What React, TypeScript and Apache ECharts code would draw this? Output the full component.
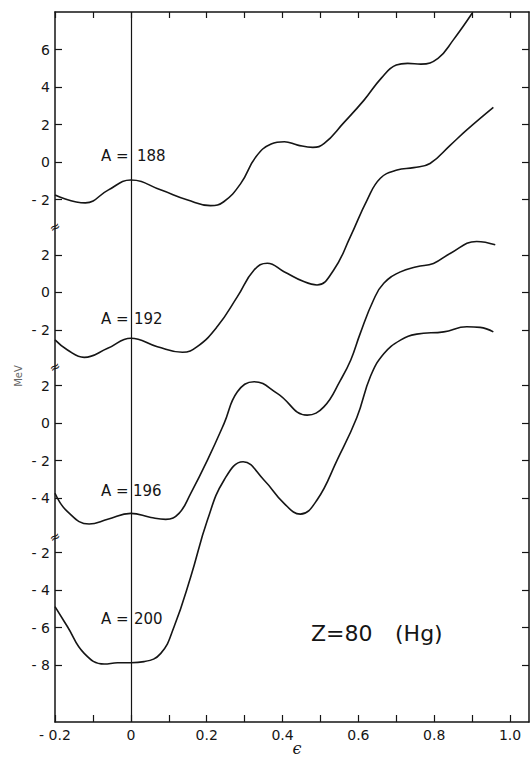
import React, { useEffect, useRef } from "react";
import * as echarts from "echarts";

// deformation axis
const X_TICKS = [-0.2, -0.1, 0, 0.1, 0.2, 0.3, 0.4, 0.5, 0.6, 0.7, 0.8, 0.9, 1.0];
const X_LABELS = [-0.2, 0, 0.2, 0.4, 0.6, 0.8, 1.0];

// A = 188 (top panel)
const eps188 = [-0.2, -0.12, -0.06, 0.0, 0.08, 0.15, 0.21, 0.245, 0.29, 0.33, 0.37, 0.405, 0.44, 0.48, 0.51, 0.56, 0.615, 0.66, 0.70, 0.73, 0.765, 0.81, 0.85, 0.90];
const mev188 = [-1.75, -2.17, -1.49, -0.95, -1.49, -2.02, -2.32, -2.11, -1.13, 0.29, 0.97, 1.09, 0.91, 0.79, 1.0, 2.07, 3.31, 4.47, 5.18, 5.27, 5.23, 5.54, 6.51, 7.94];

// A = 192
const eps192 = [-0.2, -0.167, -0.123, -0.061, 0.0, 0.07, 0.136, 0.175, 0.228, 0.281, 0.325, 0.36, 0.404, 0.456, 0.491, 0.535, 0.579, 0.623, 0.658, 0.702, 0.746, 0.789, 0.842, 0.886, 0.956];
const mev192 = [-2.54, -3.08, -3.47, -2.99, -2.45, -2.9, -3.2, -2.9, -1.83, -0.23, 1.19, 1.55, 1.1, 0.57, 0.39, 1.19, 2.97, 4.92, 6.08, 6.52, 6.65, 6.87, 7.84, 8.66, 9.86];

// A = 196
const eps196 = [-0.2, -0.167, -0.11, -0.061, 0.0, 0.053, 0.092, 0.127, 0.158, 0.202, 0.246, 0.281, 0.325, 0.386, 0.465, 0.509, 0.553, 0.58, 0.605, 0.64, 0.667, 0.711, 0.754, 0.798, 0.842, 0.912, 0.961];
const mev196 = [-3.74, -4.72, -5.38, -5.13, -4.81, -5.03, -5.13, -4.81, -3.74, -1.97, -0.01, 1.67, 2.21, 1.59, 0.43, 0.87, 2.3, 3.37, 4.79, 6.57, 7.46, 8.07, 8.34, 8.52, 9.05, 9.69, 9.51];

// A = 200 (bottom panel)
const eps200 = [-0.2, -0.167, -0.123, -0.07, -0.035, 0.0, 0.035, 0.079, 0.114, 0.158, 0.202, 0.246, 0.296, 0.351, 0.404, 0.447, 0.491, 0.544, 0.596, 0.632, 0.667, 0.711, 0.754, 0.825, 0.886, 0.921, 0.956];
const mev200 = [-4.89, -5.96, -7.38, -7.95, -7.88, -7.88, -7.82, -7.38, -5.96, -3.29, -0.27, 1.87, 2.84, 1.87, 0.62, 0.05, 0.8, 2.93, 5.2, 7.4, 8.6, 9.33, 9.65, 9.77, 10.04, 10.01, 9.77];

const MASS_NUMBERS = ["188", "192", "196", "200"];
const EPS = [eps188, eps192, eps196, eps200];
const MEV = [mev188, mev192, mev196, mev200];

// tick labels of each broken y-axis panel (MeV)
const Y_TICKS = [
  [6, 4, 2, 0, -2],
  [2, 0, -2],
  [2, 0, -2, -4],
  [-2, -4, -6, -8],
];
// lower bound of each panel's scale; all panels share the same span
const Y_MIN = [-29.86, -22.92, -15.94, -11.04];
const Y_SPAN = 37.87;

const INK = "#151515";
const FONT = "DejaVu Sans";

export default function App() {
  const ref = useRef<HTMLDivElement>(null);

  useEffect(() => {
    if (!ref.current) return;
    const chart = echarts.init(ref.current, null, { renderer: "svg" });

    const fmtY = (v: number) => (v < 0 ? "- " + Math.abs(v) : String(v));
    const fmtX = (v: number) =>
      v === 0 ? "0" : v < 0 ? "- " + Math.abs(v).toFixed(1) : v.toFixed(1);

    const yAxes: any[] = [];
    for (const side of ["left", "right"]) {
      Y_TICKS.forEach((ticks, k) => {
        yAxes.push({
          type: "value",
          position: side,
          min: Y_MIN[k],
          max: Y_MIN[k] + Y_SPAN,
          splitLine: { show: false },
          axisLine: { show: k === 0, onZero: false, lineStyle: { color: INK, width: 1.5 } },
          axisTick: {
            show: true,
            inside: true,
            length: 7,
            customValues: ticks,
            lineStyle: { color: INK, width: 1.2 },
          },
          axisLabel: {
            show: side === "left",
            customValues: ticks,
            formatter: fmtY,
            color: INK,
            fontSize: 14,
            fontFamily: FONT,
            margin: 5,
          },
        });
      });
    }

    const series: any[] = MASS_NUMBERS.map((a, k) => ({
      type: "line",
      name: "A = " + a,
      xAxisIndex: 0,
      yAxisIndex: k,
      data: EPS[k].map((x, i) => [x, MEV[k][i]]),
      smooth: 0.45,
      symbol: "none",
      clip: true,
      silent: true,
      lineStyle: { color: INK, width: 1.6 },
    }));
    series[0].markLine = {
      silent: true,
      symbol: ["none", "none"],
      label: { show: false },
      lineStyle: { color: INK, width: 1.2, type: "solid" },
      data: [{ xAxis: 0 }],
    };

    const labelY = [157, 320, 492, 620];
    const labelNumX = [137, 134, 133, 134];
    const graphic: any[] = [];
    MASS_NUMBERS.forEach((a, k) => {
      graphic.push({
        type: "text",
        left: 101,
        top: labelY[k] - 9,
        style: { text: "A =", fontSize: 15, fontFamily: FONT, fill: INK },
      });
      graphic.push({
        type: "text",
        left: labelNumX[k],
        top: labelY[k] - 9,
        style: { text: a, fontSize: 15, fontFamily: FONT, fill: INK },
      });
    });
    graphic.push({
      type: "text",
      left: 311,
      top: 622,
      style: { text: "Z=80", fontSize: 22, fontFamily: FONT, fill: INK },
    });
    graphic.push({
      type: "text",
      left: 395,
      top: 622,
      style: { text: "(Hg)", fontSize: 22, fontFamily: FONT, fill: INK },
    });
    graphic.push({
      type: "text",
      x: 297,
      y: 748,
      style: {
        text: "ϵ",
        fontSize: 16,
        fontFamily: "DejaVu Serif",
        fontStyle: "italic",
        fill: INK,
        align: "center",
        verticalAlign: "middle",
      },
    });
    graphic.push({
      type: "text",
      x: 18,
      y: 376,
      rotation: Math.PI / 2,
      style: {
        text: "MeV",
        fontSize: 10,
        fontFamily: FONT,
        fill: "#666",
        align: "center",
        verticalAlign: "middle",
      },
    });
    [227, 367, 537].forEach((y) => {
      graphic.push({
        type: "text",
        x: 55,
        y,
        rotation: 0.5,
        style: {
          text: "≈",
          fontSize: 13,
          fontFamily: FONT,
          fill: INK,
          align: "center",
          verticalAlign: "middle",
        },
      });
    });

    chart.setOption({
      animation: false,
      backgroundColor: "#fff",
      grid: { left: 55, right: 2, top: 12, bottom: 37, containLabel: false, outerBoundsMode: "none" },
      xAxis: [
        {
          type: "value",
          position: "bottom",
          min: -0.2,
          max: 1.05,
          splitLine: { show: false },
          axisLine: { onZero: false, lineStyle: { color: INK, width: 1.5 } },
          axisTick: { inside: true, length: 7, customValues: X_TICKS, lineStyle: { color: INK, width: 1.2 } },
          axisLabel: {
            customValues: X_LABELS,
            formatter: fmtX,
            color: INK,
            fontSize: 14,
            fontFamily: FONT,
            margin: 6,
          },
        },
        {
          type: "value",
          position: "top",
          min: -0.2,
          max: 1.05,
          splitLine: { show: false },
          axisLine: { onZero: false, lineStyle: { color: INK, width: 1.5 } },
          axisTick: { inside: true, length: 6, customValues: X_TICKS, lineStyle: { color: INK, width: 1.2 } },
          axisLabel: { show: false },
        },
      ],
      yAxis: yAxes,
      series,
      graphic,
    });

    return () => chart.dispose();
  }, []);

  return (
    <div
      ref={ref}
      style={{ position: "fixed", left: 0, top: 0, width: 531, height: 759, background: "#fff" }}
    />
  );
}
